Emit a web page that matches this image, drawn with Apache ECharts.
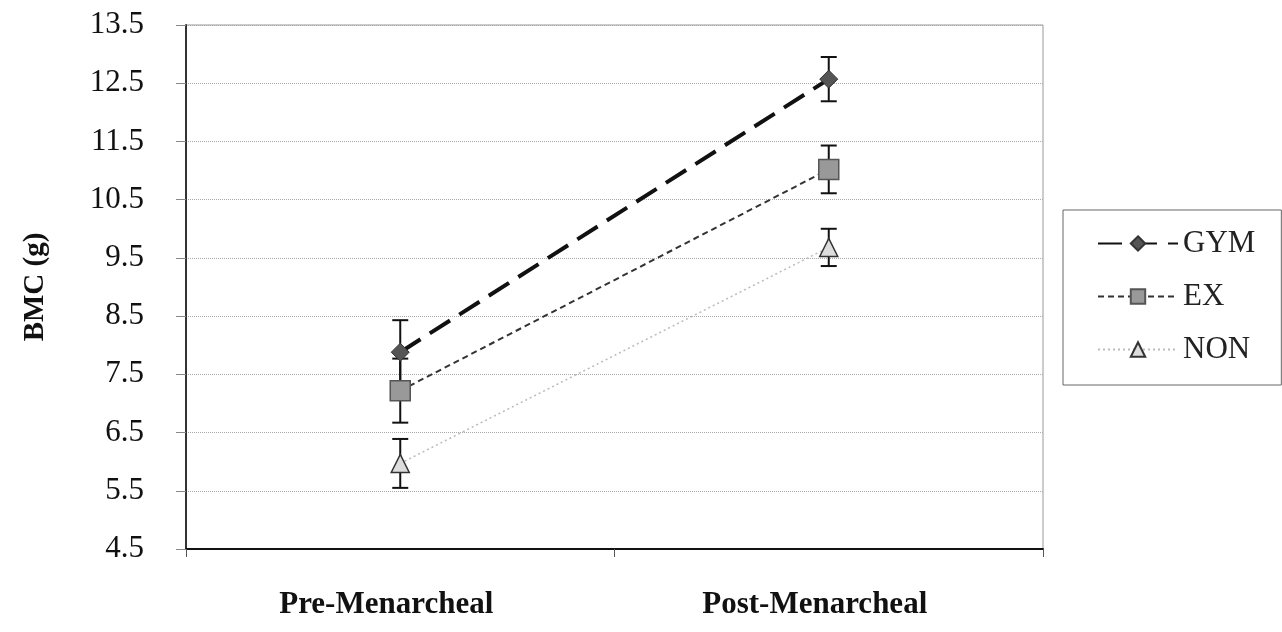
<!DOCTYPE html>
<html>
<head>
<meta charset="utf-8">
<script src="https://cdn.jsdelivr.net/npm/echarts@6/dist/echarts.min.js"></script>
<style>html,body{margin:0;padding:0;background:#fff;}#c{width:1282px;height:632px;}</style>
</head>
<body>
<div id="c"></div>
<script>
const categories = ['Pre-Menarcheal', 'Post-Menarcheal'];
const seriesNames = ['GYM', 'EX', 'NON'];
const gymValues = [7.88, 12.57];
const gymErr = [0.55, 0.38];
const exValues = [7.22, 11.02];
const exErr = [0.55, 0.41];
const nonValues = [5.97, 9.68];
const nonErr = [0.42, 0.32];
const yTicks = [4.5, 5.5, 6.5, 7.5, 8.5, 9.5, 10.5, 11.5, 12.5, 13.5];

const font = 'Liberation Serif, DejaVu Serif, serif';

function errData(vals, errs) {
  return vals.map((v, i) => [i, v + errs[i], v - errs[i]]);
}
function errSeries(vals, errs) {
  return {
    type: 'custom',
    z: 1,
    silent: true,
    data: errData(vals, errs),
    renderItem: function (params, api) {
      const x = api.value(0);
      const hi = api.coord([x, api.value(1)]);
      const lo = api.coord([x, api.value(2)]);
      const hw = 8;
      const st = { stroke: '#111', lineWidth: 2 };
      return {
        type: 'group',
        children: [
          { type: 'line', shape: { x1: hi[0], y1: hi[1], x2: lo[0], y2: lo[1] }, style: st },
          { type: 'line', shape: { x1: hi[0] - hw, y1: hi[1], x2: hi[0] + hw, y2: hi[1] }, style: st },
          { type: 'line', shape: { x1: lo[0] - hw, y1: lo[1], x2: lo[0] + hw, y2: lo[1] }, style: st }
        ]
      };
    }
  };
}

const chart = echarts.init(document.getElementById('c'));
chart.setOption({
  animation: false,
  backgroundColor: '#fff',
  grid: { left: 186, right: 239, top: 25, bottom: 83, show: true, borderColor: '#999', borderWidth: 1 },
  xAxis: {
    type: 'category',
    data: categories,
    boundaryGap: true,
    axisLine: { lineStyle: { color: '#111', width: 2 } },
    axisTick: { show: true, length: 8, lineStyle: { color: '#555' } },
    axisLabel: { margin: 40, fontFamily: font, fontWeight: 'bold', fontSize: 31, color: '#111', padding: [0, 28, 0, 0] }
  },
  yAxis: {
    type: 'value',
    min: yTicks[0],
    max: yTicks[yTicks.length - 1],
    interval: 1,
    name: 'BMC (g)',
    nameLocation: 'middle',
    nameGap: 136,
    nameRotate: 90,
    nameTextStyle: { fontFamily: font, fontWeight: 'bold', fontSize: 29, color: '#111' },
    axisLine: { show: true, lineStyle: { color: '#333', width: 2 } },
    axisTick: { show: true, length: 10, lineStyle: { color: '#888' } },
    splitLine: { show: true, lineStyle: { color: '#aaa', type: 'dotted', width: 1 } },
    axisLabel: { margin: 42, fontFamily: font, fontSize: 31, color: '#111', formatter: v => v.toFixed(1) }
  },
  legend: {
    orient: 'vertical',
    left: 1063,
    top: 210,
    data: seriesNames,
    backgroundColor: '#fff',
    borderColor: '#666',
    borderWidth: 1,
    padding: [18, 26, 20, 34],
    itemGap: 22,
    itemWidth: 80,
    itemHeight: 18,
    textStyle: { fontFamily: font, fontSize: 31, color: '#222' }
  },
  series: [
    errSeries(gymValues, gymErr),
    errSeries(exValues, exErr),
    errSeries(nonValues, nonErr),
    {
      name: 'GYM', type: 'line', z: 5, data: gymValues,
      symbol: 'diamond', symbolSize: 18,
      lineStyle: { color: '#111', width: 4, type: [24, 11] },
      itemStyle: { color: '#555', borderColor: '#333', borderWidth: 1 }
    },
    {
      name: 'EX', type: 'line', z: 4, data: exValues,
      symbol: 'rect', symbolSize: 20,
      lineStyle: { color: '#333', width: 2, type: [6, 4] },
      itemStyle: { color: '#999', borderColor: '#555', borderWidth: 1.5 }
    },
    {
      name: 'NON', type: 'line', z: 3, data: nonValues,
      symbol: 'triangle', symbolSize: 18,
      lineStyle: { color: '#bbb', width: 1.5, type: [2, 3] },
      itemStyle: { color: '#ddd', borderColor: '#333', borderWidth: 1.5 }
    }
  ]
});
</script>
</body>
</html>
